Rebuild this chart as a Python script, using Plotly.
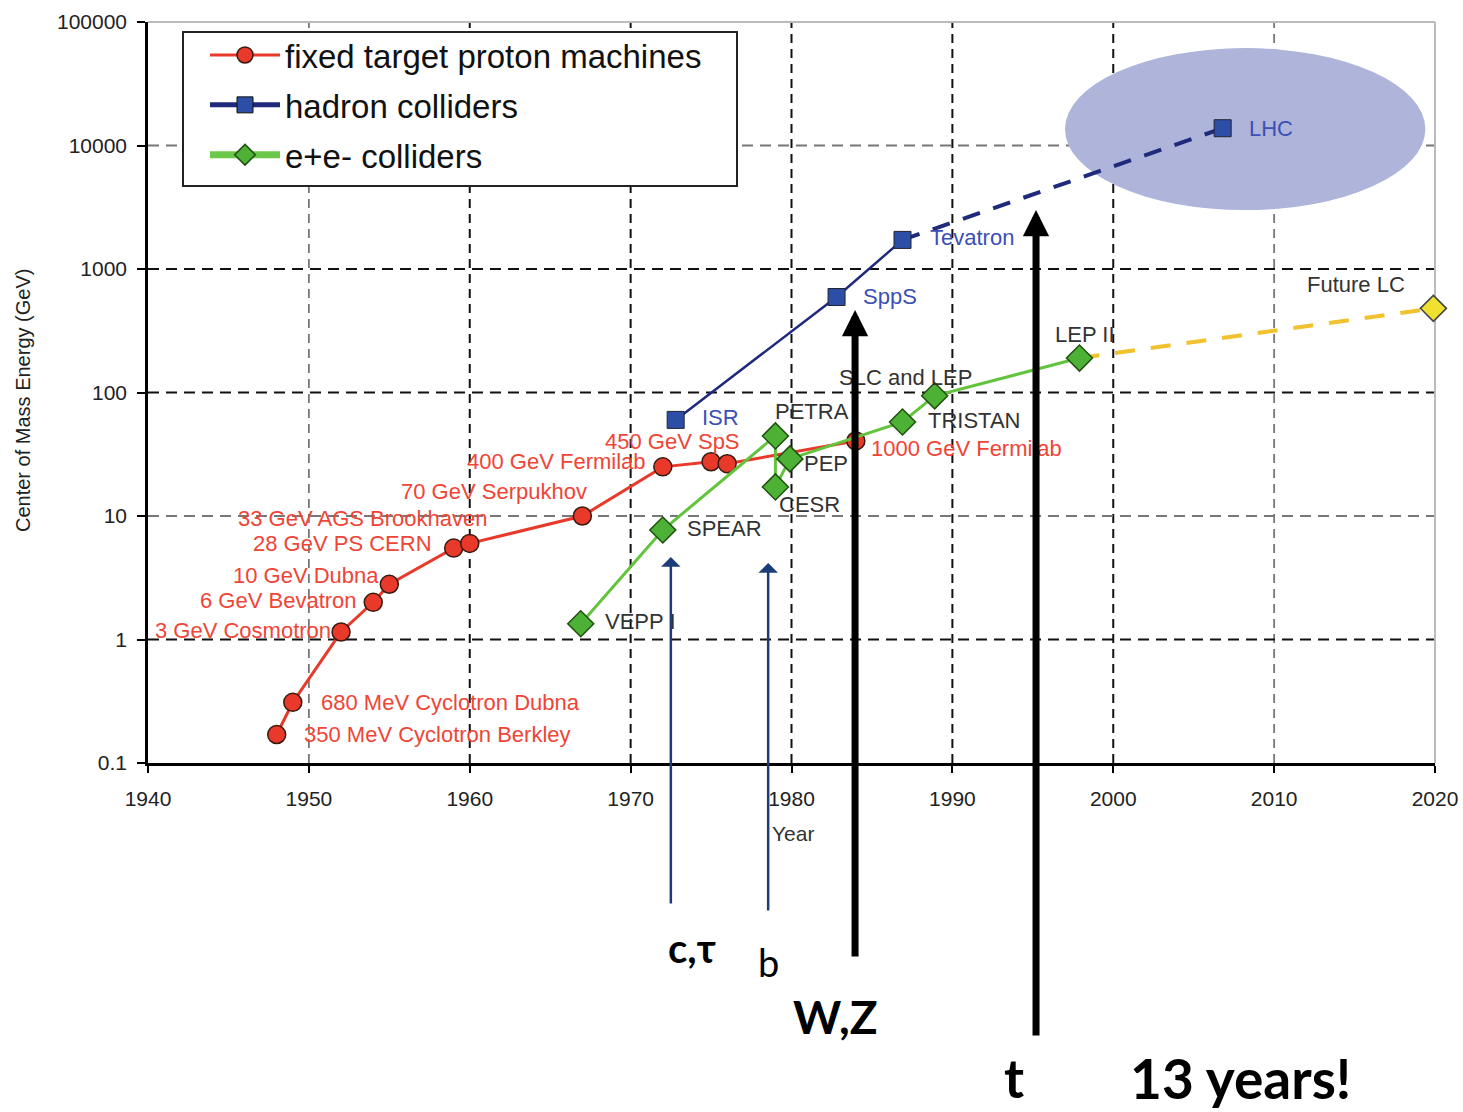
import math
import plotly.graph_objects as go

# ---------------- data ----------------
fixed_years = [1948, 1949, 1952, 1954, 1955, 1959, 1960, 1967, 1972, 1975, 1976, 1984]
fixed_gev = [0.17, 0.31, 1.15, 2.0, 2.8, 5.5, 6.0, 10, 25, 27.5, 26.5, 40.5]
fixed_names = ["350 MeV Cyclotron Berkley", "680 MeV Cyclotron Dubna", "3 GeV Cosmotron",
               "6 GeV Bevatron", "10 GeV Dubna", "28 GeV PS CERN", "33 GeV AGS Brookhaven",
               "70 GeV Serpukhov", "400 GeV Fermilab", "450 GeV SpS", "", "1000 GeV Fermilab"]

hadron_years = [1972.8, 1982.8, 1986.9]
hadron_gev = [60, 593, 1720]
hadron_names = ["ISR", "SppS", "Tevatron"]
hadron_future_years = [1986.9, 2006.8]
hadron_future_gev = [1720, 13800]
hadron_future_names = ["", "LHC"]

ee_years = [1966.9, 1972.0, 1979.0, 1979.0, 1979.9, 1986.9, 1988.9, 1997.9]
ee_gev = [1.34, 7.7, 44.5, 17.2, 29, 57.7, 94, 190]
ee_names = ["VEPP I", "SPEAR", "PETRA", "CESR", "PEP", "TRISTAN", "SLC and LEP", "LEP II"]
lc_years = [1997.9, 2019.9]
lc_gev = [190, 480]
lc_names = ["", "Future LC"]

particles = ["c,τ", "b", "W,Z", "t"]
discovery_years = [1972.5, 1978.55, 1983.95, 1995.2]
arrow_top_gev = [4.65, 4.16, 466, 3000]

lhc_region_years = [1997.0, 2019.4]
lhc_region_gev = [3000, 61500]

x_ticks = [1940, 1950, 1960, 1970, 1980, 1990, 2000, 2010, 2020]
y_ticks = [0.1, 1, 10, 100, 1000, 10000, 100000]
y_ticktext = ["0.1", "1", "10", "100", "1000", "10000", "100000"]
dark_x_grid = [1960, 1970, 1980, 1990, 2000]
light_x_grid = [1950, 2010]
dark_y_grid = [1, 100, 1000]
light_y_grid = [10, 10000]

# ---------------- styles ----------------
RED = "#e8392a"
RED_TXT = "#ef4536"
NAVY = "#1f2a7c"
BLUE_MK = "#2d4ea6"
BLUE_TXT = "#3b4fb5"
GREEN = "#62c43c"
GREEN_MK = "#4db136"
YELLOW = "#f2c12e"
GRAY_TXT = "#333333"
LABEL_FONT = dict(family="Liberation Sans, Arial", size=22)

# plot-area geometry in pixels
L, R, T, B = 148, 28, 22, 349
PW = 1463 - L - R
PH = 1112 - T - B

def px_x(px):
    return (px - L) / PW

def px_y(py):
    return (1112 - B - py) / PH

# label offsets (xanchor, xshift, yshift) per point
fixed_off = [("left", 25, 0), ("left", 26, 0), ("right", -8, 2), ("right", -14, 2),
             ("right", -8, 9), ("right", -20, 5), ("right", 20, 25), ("right", 7, 25),
             ("right", -15, 5), ("right", 31, 20), ("left", 0, 0), ("left", 13, -8)]
hadron_off = [("left", 24, 2), ("left", 24, 1), ("left", 25, 2)]
lhc_off = [("left", 0, 0), ("left", 24, 0)]
ee_off = [("left", 22, 2), ("left", 22, 2), ("center", 37, 24), ("left", 2, -18),
          ("left", 12, -5), ("left", 23, 1), ("center", -29, 18), ("center", 6, 24)]
lc_off = [("left", 0, 0), ("right", -26, 24)]

fig = go.Figure()

# legend-only entries
fig.add_trace(go.Scatter(x=[None], y=[None], mode="lines+markers", name="fixed target proton machines",
                         line=dict(color=RED, width=3), legendgroup="a",
                         marker=dict(symbol="circle", size=22, color=RED, line=dict(color="#3a1a10", width=1.5))))
fig.add_trace(go.Scatter(x=[None], y=[None], mode="lines+markers", name="hadron colliders",
                         line=dict(color=NAVY, width=5), legendgroup="b",
                         marker=dict(symbol="square", size=22, color=BLUE_MK, line=dict(color="#111", width=1))))
fig.add_trace(go.Scatter(x=[None], y=[None], mode="lines+markers", name="e+e- colliders",
                         line=dict(color="#6cc84a", width=7), legendgroup="c",
                         marker=dict(symbol="diamond", size=22, color=GREEN_MK, line=dict(color="#205010", width=1.5))))

# data traces
fig.add_trace(go.Scatter(x=hadron_future_years, y=hadron_future_gev, mode="lines", showlegend=False,
                         line=dict(color=NAVY, width=4, dash="18px,14px")))
fig.add_trace(go.Scatter(x=lc_years, y=lc_gev, mode="lines", showlegend=False,
                         line=dict(color=YELLOW, width=4, dash="20px,16px")))
fig.add_trace(go.Scatter(x=fixed_years, y=fixed_gev, mode="lines+markers", showlegend=False,
                         line=dict(color=RED, width=3),
                         marker=dict(symbol="circle", size=18, color=RED, line=dict(color="#3a1a10", width=1.5))))
fig.add_trace(go.Scatter(x=hadron_years, y=hadron_gev, mode="lines+markers", showlegend=False,
                         line=dict(color=NAVY, width=2.5),
                         marker=dict(symbol="square", size=17, color=BLUE_MK, line=dict(color="#223", width=1))))
fig.add_trace(go.Scatter(x=hadron_future_years[1:], y=hadron_future_gev[1:], mode="markers", showlegend=False,
                         marker=dict(symbol="square", size=17, color=BLUE_MK, line=dict(color="#223", width=1))))
fig.add_trace(go.Scatter(x=ee_years, y=ee_gev, mode="lines+markers", showlegend=False,
                         line=dict(color=GREEN, width=3),
                         marker=dict(symbol="diamond", size=20, color=GREEN_MK, line=dict(color="#205010", width=1.5))))
fig.add_trace(go.Scatter(x=lc_years[1:], y=lc_gev[1:], mode="markers", showlegend=False, cliponaxis=False,
                         marker=dict(symbol="diamond", size=20, color="#f0e030", line=dict(color="#444", width=1.5))))

annotations = []

def add_labels(xs, ys, names, offs, color):
    for x, y, n, (anc, dx, dy) in zip(xs, ys, names, offs):
        if not n:
            continue
        annotations.append(dict(x=x, y=math.log10(y), xref="x", yref="y", text=n, showarrow=False,
                                xanchor=anc, yanchor="middle", xshift=dx, yshift=dy,
                                font=dict(color=color, **LABEL_FONT)))

add_labels(fixed_years, fixed_gev, fixed_names, fixed_off, RED_TXT)
add_labels(hadron_years, hadron_gev, hadron_names, hadron_off, BLUE_TXT)
add_labels(hadron_future_years, hadron_future_gev, hadron_future_names, lhc_off, BLUE_TXT)
add_labels(ee_years, ee_gev, ee_names, ee_off, GRAY_TXT)
add_labels(lc_years, lc_gev, lc_names, lc_off, GRAY_TXT)

# discovery arrows
arrow_styles = [dict(color="#1d3d78", width=2.5, head=1, size=1.3, tail=348),
                dict(color="#1d3d78", width=2.5, head=1, size=1.3, tail=349),
                dict(color="black", width=7, head=2, size=0.75, tail=648),
                dict(color="black", width=7, head=2, size=0.75, tail=827)]
for yr, top, st in zip(discovery_years, arrow_top_gev, arrow_styles):
    annotations.append(dict(x=yr, y=math.log10(top), xref="x", yref="y", ax=0, ay=st["tail"],
                            axref="pixel", ayref="pixel", showarrow=True, arrowhead=st["head"],
                            arrowsize=st["size"], arrowwidth=st["width"], arrowcolor=st["color"],
                            standoff=0, text=""))

# particle labels
part_styles = [dict(dx=21, y=px_y(948), size=40, bold=True),
               dict(dx=0, y=px_y(962), size=38, bold=False),
               dict(dx=-20, y=px_y(1016), size=46, bold=True),
               dict(dx=-22, y=px_y(1077), size=54, bold=True)]
for p, yr, st in zip(particles, discovery_years, part_styles):
    txt = "<b>%s</b>" % p if st["bold"] else p
    annotations.append(dict(x=yr, y=st["y"], xref="x", yref="paper", text=txt, showarrow=False,
                            xanchor="center", yanchor="middle", xshift=st["dx"],
                            font=dict(family="Lato", size=st["size"], color="black")))
annotations.append(dict(x=px_x(1240), y=px_y(1078), xref="paper", yref="paper",
                        text="<b>13 years!</b>", showarrow=False, xanchor="center", yanchor="middle",
                        font=dict(family="Lato", size=55, color="black")))

# axis titles
annotations.append(dict(x=px_x(23), y=px_y(401), xref="paper", yref="paper",
                        text="Center of Mass Energy (GeV)", textangle=-90, showarrow=False,
                        xanchor="center", yanchor="middle",
                        font=dict(family="Liberation Sans, Arial", size=20, color="#222")))
annotations.append(dict(x=px_x(793), y=px_y(833), xref="paper", yref="paper",
                        text="Year", showarrow=False, xanchor="center", yanchor="middle",
                        font=dict(family="Liberation Sans, Arial", size=21, color=GRAY_TXT)))

# shapes: LHC region first, then grid, then legend frame
shapes = [dict(type="circle", xref="x", yref="y", x0=lhc_region_years[0], x1=lhc_region_years[1],
               y0=lhc_region_gev[0], y1=lhc_region_gev[1], fillcolor="#aeb4da",
               line=dict(width=0), layer="below")]
for v in dark_x_grid:
    shapes.append(dict(type="line", xref="x", yref="paper", x0=v, x1=v, y0=0, y1=1, layer="below",
                       line=dict(color="#111", width=2, dash="9px,6px")))
for v in light_x_grid:
    shapes.append(dict(type="line", xref="x", yref="paper", x0=v, x1=v, y0=0, y1=1, layer="below",
                       line=dict(color="#777", width=1.8, dash="9px,6px")))
for v in dark_y_grid:
    shapes.append(dict(type="line", xref="paper", yref="y", x0=0, x1=1, y0=v, y1=v, layer="below",
                       line=dict(color="#111", width=2, dash="11px,7px")))
for v in light_y_grid:
    shapes.append(dict(type="line", xref="paper", yref="y", x0=0, x1=1, y0=v, y1=v, layer="below",
                       line=dict(color="#777", width=1.8, dash="11px,7px")))
shapes.append(dict(type="line", xref="paper", yref="paper", x0=0, x1=1, y0=1, y1=1, layer="below",
                   line=dict(color="#bbbbbb", width=2)))
shapes.append(dict(type="line", xref="paper", yref="paper", x0=1, x1=1, y0=0, y1=1, layer="below",
                   line=dict(color="#bbbbbb", width=2)))
shapes.append(dict(type="rect", xref="paper", yref="paper", x0=px_x(183), x1=px_x(737),
                   y0=px_y(186), y1=px_y(32), layer="below", fillcolor="white",
                   line=dict(color="#222", width=2)))

fig.update_layout(
    width=1463, height=1112, autosize=False,
    margin=dict(l=L, r=R, t=T, b=B, autoexpand=False),
    paper_bgcolor="white", plot_bgcolor="white",
    shapes=shapes, annotations=annotations,
    legend=dict(x=px_x(205), y=px_y(27), xanchor="left", yanchor="top",
                borderwidth=0, bgcolor="rgba(0,0,0,0)", itemwidth=70,
                tracegroupgap=4, traceorder="grouped",
                font=dict(family="Liberation Sans, Arial", size=33, color="#111")),
    xaxis=dict(range=[1940, 2020], tickvals=x_ticks, showgrid=False, zeroline=False, automargin=False,
               showline=True, linecolor="black", linewidth=2.5, ticks="outside", ticklen=7,
               tickwidth=2, tickcolor="black", ticklabelstandoff=8, ticklabeloverflow="allow",
               tickfont=dict(family="Liberation Sans, Arial", size=21, color="#222")),
    yaxis=dict(type="log", range=[-1, 5], tickvals=y_ticks, ticktext=y_ticktext, showgrid=False,
               zeroline=False, showline=True, linecolor="black", linewidth=2.5, ticks="outside",
               ticklen=8, tickwidth=2, tickcolor="black", ticklabelstandoff=6, automargin=False,
               tickfont=dict(family="Liberation Sans, Arial", size=21, color="#222")),
)

fig.write_html("out.html")
